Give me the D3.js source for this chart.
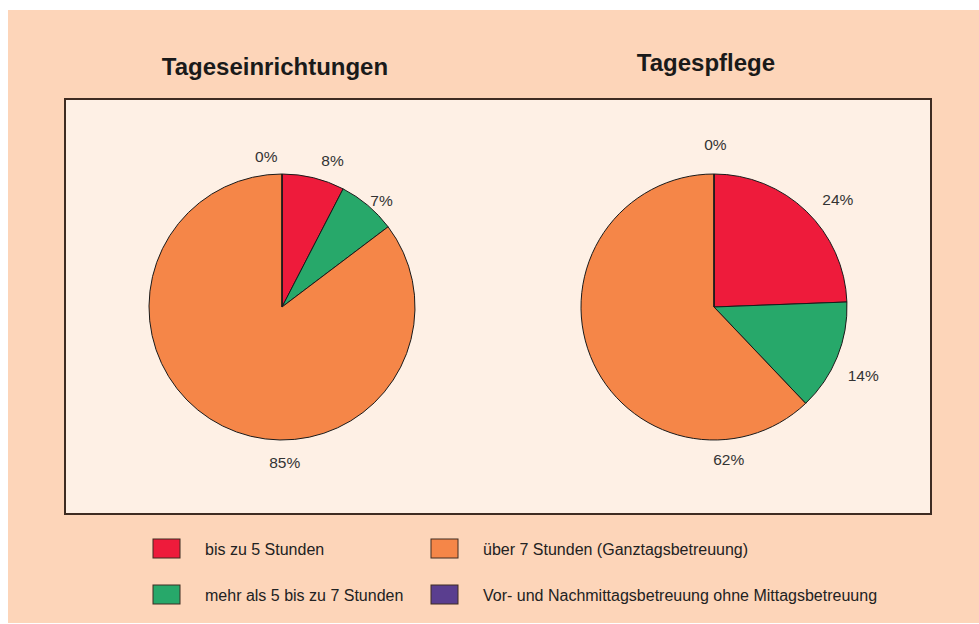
<!DOCTYPE html>
<html>
<head>
<meta charset="utf-8">
<script src="https://cdn.jsdelivr.net/npm/d3@7"></script>
<style>
  html, body { margin: 0; padding: 0; background: #fff; }
  svg { display: block; font-family: "Liberation Sans", Arial, Helvetica, sans-serif; }
</style>
</head>
<body>
<svg id="chart"></svg>
<script>
// categories in drawing order (clockwise from 12 o'clock)
const categories = [
  "bis zu 5 Stunden",
  "mehr als 5 bis zu 7 Stunden",
  "über 7 Stunden (Ganztagsbetreuung)",
  "Vor- und Nachmittagsbetreuung ohne Mittagsbetreuung"
];
const colors = ["#ee1b3b", "#27a86a", "#f58648", "#5a3e8f"];

const chartTitles = ["Tageseinrichtungen", "Tagespflege"];
const valuesEinrichtungen = [7.6, 7.1, 85.3, 0];
const valuesPflege = [24.4, 13.5, 62.1, 0];
const labelsEinrichtungen = ["8%", "7%", "85%", "0%"];
const labelsPflege = ["24%", "14%", "62%", "0%"];

const svgWidth = 979;
const svgHeight = 624;

const svg = d3.select("#chart")
  .attr("width", svgWidth)
  .attr("height", svgHeight);

// outer peach background
svg.append("rect")
  .attr("x", 8).attr("y", 10)
  .attr("width", svgWidth - 8).attr("height", svgHeight - 11)
  .attr("fill", "#fdd5b9");

// inner panel
svg.append("rect")
  .attr("x", 65).attr("y", 99)
  .attr("width", 866).attr("height", 415)
  .attr("fill", "#fef0e5")
  .attr("stroke", "#3e2c22")
  .attr("stroke-width", 2);

const radius = 133;
const pie = d3.pie().sort(null).value(d => d).startAngle(0).endAngle(2 * Math.PI);
const arc = d3.arc().innerRadius(0).outerRadius(radius);

// layout for the two pies; label angles (deg) / radii follow where the original put them
const pies = [
  { title: chartTitles[0], values: valuesEinrichtungen, labels: labelsEinrichtungen,
    cx: 282, cy: 307, titleX: 275, titleY: 75,
    labelAngle: [19, 43, 179, -6], labelR: [155, 146, 155, 151] },
  { title: chartTitles[1], values: valuesPflege, labels: labelsPflege,
    cx: 714, cy: 307, titleX: 706, titleY: 71,
    labelAngle: [49, 114.5, 174.5, 0.5], labelR: [164, 164, 153, 163] }
];

pies.forEach(p => {
  svg.append("text")
    .attr("x", p.titleX).attr("y", p.titleY)
    .attr("text-anchor", "middle")
    .attr("font-size", "24px")
    .attr("font-weight", "bold")
    .attr("fill", "#1a1a1a")
    .text(p.title);

  const g = svg.append("g").attr("transform", `translate(${p.cx},${p.cy})`);
  const arcs = pie(p.values);

  g.selectAll("path")
    .data(arcs)
    .join("path")
    .attr("d", arc)
    .attr("fill", (d, i) => colors[i])
    .attr("stroke", "#1a1a1a")
    .attr("stroke-width", 1)
    .attr("stroke-linejoin", "round");

  g.selectAll("text")
    .data(arcs)
    .join("text")
    .attr("transform", (d, i) => {
      const a = p.labelAngle[i] != null ? p.labelAngle[i] * Math.PI / 180 : (d.startAngle + d.endAngle) / 2;
      const r = p.labelR[i];
      return `translate(${r * Math.sin(a)},${-r * Math.cos(a)})`;
    })
    .attr("dy", "0.36em")
    .attr("text-anchor", "middle")
    .attr("font-size", "15.5px")
    .attr("fill", "#333")
    .text((d, i) => p.labels[i]);
});

// legend, two columns by two rows
const legendCols = [153, 431];
const legendRows = [539, 585];
const legend = svg.append("g");
categories.forEach((c, i) => {
  const col = i < 2 ? 0 : 1;
  const row = i % 2;
  const x = legendCols[col];
  const y = legendRows[row];
  legend.append("rect")
    .attr("x", x).attr("y", y)
    .attr("width", 27).attr("height", 19)
    .attr("fill", colors[i])
    .attr("stroke", "#3e2c22")
    .attr("stroke-width", 1);
  legend.append("text")
    .attr("x", x + 52).attr("y", y + 10)
    .attr("dy", "0.35em")
    .attr("font-size", "16px")
    .attr("fill", "#222")
    .text(c);
});
</script>
</body>
</html>
